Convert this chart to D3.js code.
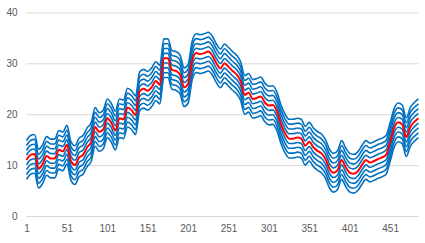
<!DOCTYPE html>
<html>
<head>
<meta charset="utf-8">
<script src="https://cdn.jsdelivr.net/npm/d3@7"></script>
<style>
  body { margin: 0; background: #fff; }
  text { font-family: "Liberation Sans", Arial, sans-serif; }
</style>
</head>
<body>
<div id="chart"></div>
<script>
// sampled category numbers (every 5th point of 486)
var nCat = 486;
var sampleIdx = d3.range(1, nCat + 1, 5);

// centre (red) series
var midValues = [
  11.0, 12.0, 12.2, 9.3, 10.2, 11.8, 11.3, 11.3, 13.0, 12.7,
  14.0, 10.8, 10.0, 11.5, 12.0, 13.5, 14.5, 17.5, 16.5, 17.0,
  19.2, 18.3, 16.8, 19.2, 19.0, 21.3, 20.8, 19.8, 24.5, 25.0,
  24.6, 25.3, 26.5, 25.8, 31.0, 31.0, 28.7, 28.5, 27.8, 25.3,
  26.0, 30.5, 32.0, 31.8, 32.0, 32.3, 31.5, 30.0, 29.0, 30.0,
  29.3, 28.5, 27.8, 26.5, 23.8, 24.2, 23.0, 23.2, 23.5, 22.3,
  21.7, 21.8, 20.5, 18.0, 16.2, 15.2, 15.2, 15.4, 15.2, 13.8,
  14.6, 13.5, 12.8, 12.3, 11.2, 9.3, 8.5, 9.0, 11.0, 9.6,
  8.5, 8.3, 8.8, 10.0, 11.0, 10.5, 10.8, 11.2, 11.5, 12.0,
  14.5, 17.3, 18.4, 18.0, 15.5, 17.5, 18.5, 19.2
];

// blue band lines: distance from the centre line
var bandOffsets = [-3.8, -2.85, -1.9, -0.95, 0.95, 1.9, 2.85, 3.8];

var yTicks = [0, 10, 20, 30, 40];
var xTicks = [1, 51, 101, 151, 201, 251, 301, 351, 401, 451];

var width = 425, height = 243;
var plotLeft = 26.5, plotRight = 418.4, plotTop = 12.4, plotBottom = 216;

var svg = d3.select("#chart").append("svg")
  .attr("width", width)
  .attr("height", height);

var x = d3.scaleLinear().domain([1, nCat]).range([plotLeft, plotRight]);
var y = d3.scaleLinear().domain([0, 40]).range([plotBottom, plotTop]);

// gridlines + y labels
var yAxis = svg.append("g")
  .attr("transform", "translate(" + plotLeft + ",0)")
  .call(d3.axisLeft(y).tickValues(yTicks).tickSize(-(plotRight - plotLeft)).tickPadding(9));
yAxis.select(".domain").remove();
yAxis.selectAll("line").attr("stroke", "#d9d9d9");
yAxis.selectAll("text").attr("fill", "#595959").style("font-size", "10px");

// x axis
var xAxis = svg.append("g")
  .attr("transform", "translate(0," + plotBottom + ")")
  .call(d3.axisBottom(x).tickValues(xTicks).tickSize(0).tickPadding(9).tickFormat(d3.format("d")));
xAxis.select(".domain").attr("stroke", "#d9d9d9");
xAxis.selectAll("text").attr("fill", "#595959").style("font-size", "10px");

var line = d3.line()
  .x(function(d) { return x(d[0]); })
  .y(function(d) { return y(d[1]); })
  .curve(d3.curveMonotoneX);

bandOffsets.forEach(function(off) {
  var pts = sampleIdx.map(function(i, k) { return [i, midValues[k] + off]; });
  svg.append("path")
    .attr("d", line(pts))
    .attr("fill", "none")
    .attr("stroke", "#0070c0")
    .attr("stroke-width", 1.6);
});

svg.append("path")
  .attr("d", line(sampleIdx.map(function(i, k) { return [i, midValues[k]]; })))
  .attr("fill", "none")
  .attr("stroke", "#ff0000")
  .attr("stroke-width", 2);
</script>
</body>
</html>
